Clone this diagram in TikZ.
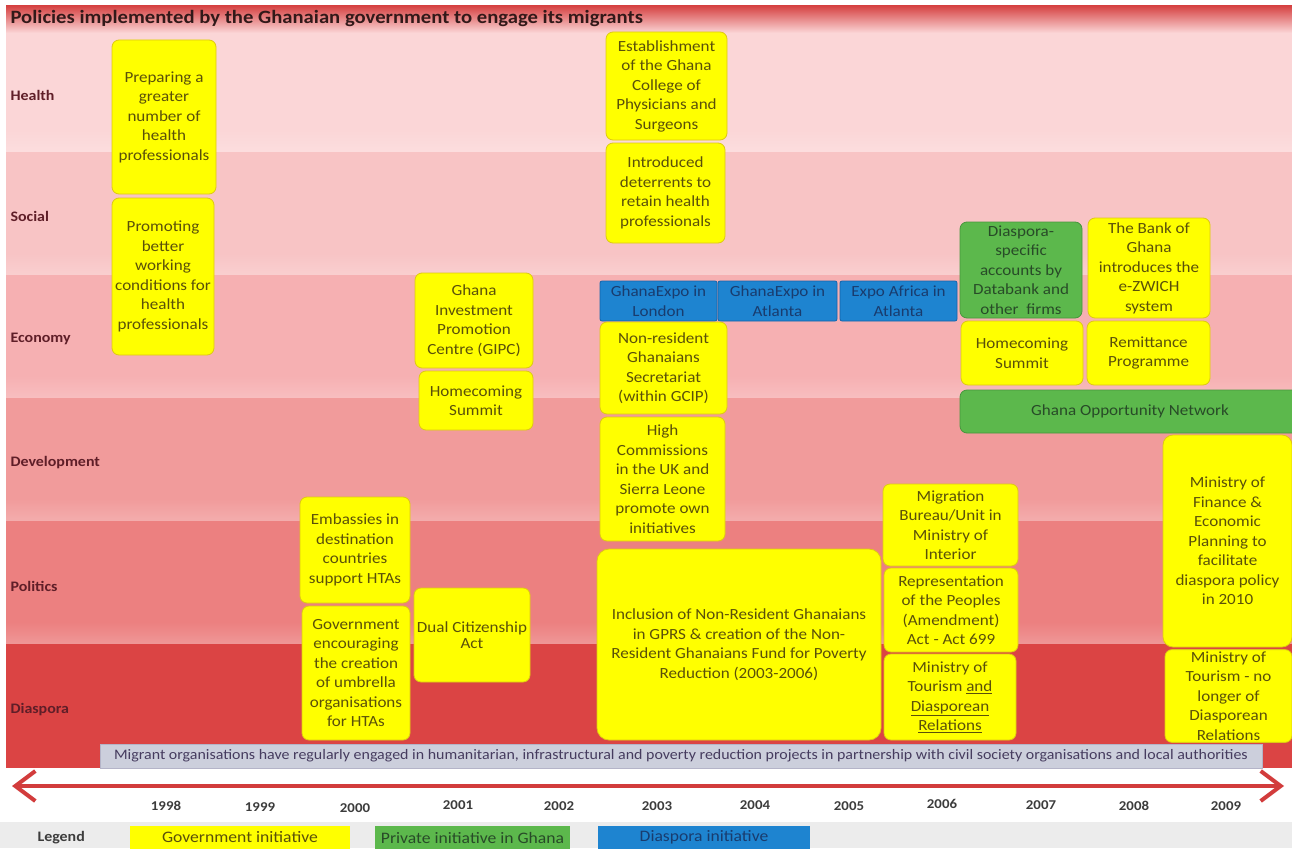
\documentclass[tikz,border=0pt]{standalone}
\usepackage{fontspec}
\setmainfont[FakeStretch=1.1]{Carlito}
\usetikzlibrary{arrows.meta}
\definecolor{rowH}{RGB}{251,214,215}
\definecolor{rowS}{RGB}{248,196,197}
\definecolor{rowE}{RGB}{246,176,178}
\definecolor{rowD}{RGB}{241,155,155}
\definecolor{rowP}{RGB}{236,128,128}
\definecolor{rowA}{RGB}{219,68,68}
\definecolor{titleR}{RGB}{214,68,68}
\definecolor{govY}{RGB}{255,255,0}
\definecolor{govE}{RGB}{222,200,20}
\definecolor{govT}{RGB}{90,80,10}
\definecolor{privG}{RGB}{92,184,76}
\definecolor{privE}{RGB}{70,150,60}
\definecolor{privT}{RGB}{40,75,40}
\definecolor{diaB}{RGB}{30,132,208}
\definecolor{diaE}{RGB}{20,100,170}
\definecolor{diaT}{RGB}{25,60,110}
\definecolor{lbl}{RGB}{95,30,40}
\definecolor{bandG}{RGB}{204,207,220}
\definecolor{bandT}{RGB}{70,60,95}
\definecolor{arrR}{RGB}{210,60,60}
\definecolor{legG}{RGB}{236,236,236}
\tikzset{
  box/.style={rounded corners=7pt, align=center, inner sep=2pt, line width=0.8pt,
    font=\fontsize{15.5}{19.5}\selectfont},
  gov/.style={box, fill=govY, draw=govE, text=govT},
  priv/.style={box, fill=privG, draw=privE, text=privT},
  dia/.style={box, rounded corners=2pt, fill=diaB, draw=diaE, text=diaT},
  rowlbl/.style={anchor=west, text=lbl, font=\fontsize{14.5}{17}\bfseries},
  year/.style={text={rgb,255:red,60;green,60;blue,60}, font=\fontsize{13.5}{16}\bfseries},
  legbox/.style={inner sep=0pt, font=\fontsize{16}{18}\selectfont}
}
\newcommand{\bandrow}[3]{%
  \fill[#1] (6,#2) rectangle (1292,#3);
  \shade[top color=#1, bottom color=#1!82!white] (6,#3-22) rectangle (1292,#3);}
\begin{document}
\begin{tikzpicture}[x=1pt,y=-1pt]
\useasboundingbox (0,0) rectangle (1292,848);
\fill[white] (0,0) rectangle (1292,848);
% rows
\bandrow{rowH}{32}{152}
\bandrow{rowS}{152}{275}
\bandrow{rowE}{275}{398}
\bandrow{rowD}{398}{521}
\bandrow{rowP}{521}{644}
\fill[rowA] (6,644) rectangle (1292,768);
\shade[top color=titleR, bottom color=rowH] (6,6) rectangle (1292,33);
\fill[legG] (0,822) rectangle (1292,848);
% title
\node[anchor=west, text={rgb,255:red,50;green,25;blue,25}, font=\fontsize{18.8}{21}\bfseries] (title) at (7,18) {Policies implemented by the Ghanaian government to engage its migrants};
% row labels
\node[rowlbl] (lH) at (7,95) {Health};
\node[rowlbl] (lS) at (7,216) {Social};
\node[rowlbl] (lE) at (7,339) {Economy};
\node[rowlbl] (lD) at (7,463) {Development};
\node[rowlbl] (lP) at (7,586) {Politics};
\node[rowlbl] (lA) at (7,710) {Diaspora};
% boxes
\node[gov, minimum width=104, minimum height=154] (b1) at (164,117) {Preparing a\\greater\\number of\\health\\professionals};
\node[gov, minimum width=102, minimum height=157] (b2) at (163,276.5) {Promoting\\better\\working\\conditions for\\health\\professionals};
\node[gov, minimum width=121, minimum height=108] (b3) at (666.5,86) {Establishment\\of the Ghana\\College of\\Physicians and\\Surgeons};
\node[gov, minimum width=119, minimum height=100] (b4) at (665.5,193) {Introduced\\deterrents to\\retain health\\professionals};
\node[dia, minimum width=117, minimum height=40] (x1) at (658.5,301) {GhanaExpo in\\London};
\node[dia, minimum width=119, minimum height=40] (x2) at (777.5,301) {GhanaExpo in\\Atlanta};
\node[dia, minimum width=117, minimum height=40] (x3) at (898.5,301) {Expo Africa in\\Atlanta};
\node[gov, minimum width=127, minimum height=92] (b6) at (663.5,368) {Non-resident\\Ghanaians\\Secretariat\\(within GCIP)};
\node[gov, minimum width=125, minimum height=124] (b7) at (662.5,479) {High\\Commissions\\in the UK and\\Sierra Leone\\promote own\\initiatives};
\node[gov, rounded corners=12pt, minimum width=284, minimum height=191] (b8) at (739,644.5) {Inclusion of Non-Resident Ghanaians\\in GPRS \& creation of the Non-\\Resident Ghanaians Fund for Poverty\\Reduction (2003-2006)};
\node[gov, minimum width=118, minimum height=95] (b9) at (474,320.5) {Ghana\\Investment\\Promotion\\Centre (GIPC)};
\node[gov, minimum width=114, minimum height=59] (b10) at (476,400.5) {Homecoming\\Summit};
\node[gov, minimum width=110, minimum height=106] (b11) at (355,550) {Embassies in\\destination\\countries\\support HTAs};
\node[gov, minimum width=108, minimum height=134] (b12) at (356,673) {Government\\encouraging\\the creation\\of umbrella\\organisations\\for HTAs};
\node[gov, minimum width=116, minimum height=94, font=\fontsize{15.5}{16}\selectfont] (b13) at (472,635) {Dual Citizenship\\Act};
\node[gov, minimum width=135, minimum height=82] (b14) at (950.5,525) {Migration\\Bureau/Unit in\\Ministry of\\Interior};
\node[gov, minimum width=134, minimum height=84] (b15) at (951,610) {Representation\\of the Peoples\\(Amendment)\\Act - Act 699};
\node[gov, minimum width=132, minimum height=86] (b16) at (950,697) {Ministry of\\Tourism \underline{and}\\\underline{Diasporean}\\\underline{Relations}};
\node[priv, minimum width=122, minimum height=96] (b17) at (1021,270) {Diaspora-\\specific\\accounts by\\Databank and\\other\ \ firms};
\node[gov, minimum width=122, minimum height=100] (b18) at (1149,268) {The Bank of\\Ghana\\introduces the\\e-ZWICH\\system};
\node[gov, minimum width=122, minimum height=64] (b19) at (1022,353) {Homecoming\\Summit};
\node[gov, minimum width=123, minimum height=64] (b20) at (1148.5,353) {Remittance\\Programme};
\node[priv, minimum width=340, minimum height=43] (b21) at (1130,411.5) {Ghana Opportunity Network};
\node[gov, rounded corners=10pt, minimum width=129, minimum height=212] (b22) at (1227.5,541) {Ministry of\\Finance \&\\Economic\\Planning to\\facilitate\\diaspora policy\\in 2010};
\node[gov, minimum width=127, minimum height=92] (b23) at (1228.5,696) {Ministry of\\Tourism - no\\longer of\\Diasporean\\Relations};
% band
\node[fill=bandG, draw={rgb,255:red,180;green,180;blue,200}, line width=0.6pt, minimum width=1162, minimum height=24, inner sep=0pt, text=bandT, font=\fontsize{14.5}{16}\selectfont] (band) at (681,756) {Migrant organisations have regularly engaged in humanitarian, infrastructural and poverty reduction projects in partnership with civil society organisations and local authorities};
% arrow
\coordinate (al) at (12,786);
\coordinate (ar) at (1284,786);
\draw[arrR, line width=4pt, {Straight Barb[length=20pt,width=30pt]}-{Straight Barb[length=20pt,width=30pt]}] (al) -- (ar);
% years
\node[year] (y98) at (166,806) {1998};
\node[year] (y99) at (260,807) {1999};
\node[year] (y00) at (355,808) {2000};
\node[year] (y01) at (458,805) {2001};
\node[year] (y02) at (559,806) {2002};
\node[year] (y03) at (657,806) {2003};
\node[year] (y04) at (755,805) {2004};
\node[year] (y05) at (849,806) {2005};
\node[year] (y06) at (942,804) {2006};
\node[year] (y07) at (1041,805) {2007};
\node[year] (y08) at (1134,806) {2008};
\node[year] (y09) at (1226,806) {2009};
% legend
\node[anchor=west, text={rgb,255:red,60;green,60;blue,60}, font=\fontsize{14.5}{17}\bfseries] (leg) at (34,838) {Legend};
\node[legbox, fill=govY, text=govT, minimum width=220, minimum height=23] (lg1) at (240,837.5) {Government initiative};
\node[legbox, fill=privG, text=privT, minimum width=195, minimum height=23] (lg2) at (472.5,837.5) {Private initiative in Ghana};
\node[legbox, fill=diaB, text=diaT, minimum width=212, minimum height=23] (lg3) at (704,837.5) {Diaspora initiative};
\end{tikzpicture}
\end{document}
